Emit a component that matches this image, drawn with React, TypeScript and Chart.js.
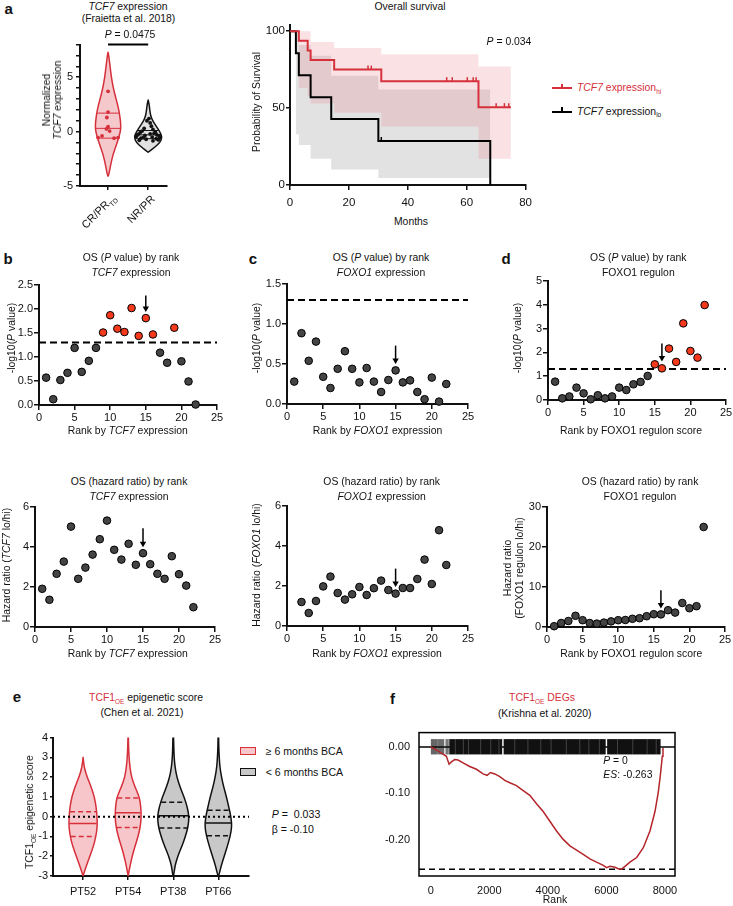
import React, { useEffect, useRef } from 'react';
import { Chart, registerables } from 'chart.js';

Chart.register(...registerables);

const FONT = '"Liberation Sans", Arial, Helvetica, sans-serif';
Chart.defaults.font.family = FONT;
Chart.defaults.font.size = 11;
Chart.defaults.color = '#111';

const INK = '#111111';
const RED = '#d6303b';
const DOT_RED = '#f5391c';
const DOT_GRAY = '#444444';

// ---------------- DATA ----------------
// Panel a: violin (normalized TCF7 expression)
const A_CATEGORIES = ['CR/PR_TD', 'NR/PR'];
const A_CR_Y = [-4.1, -4, -3, -2, -1, 0, 0.5, 1, 2, 3, 4, 5, 6, 7, 7.3];
const A_CR_W = [0, 0.017, 0.067, 0.13, 0.23, 0.31, 0.317, 0.31, 0.27, 0.2, 0.13, 0.083, 0.05, 0.017, 0];
const A_NR_Y = [-1.9, -1.5, -1, -0.5, 0, 0.5, 1, 1.5, 2, 2.5, 2.9];
const A_NR_W = [0, 0.14, 0.3, 0.35, 0.29, 0.2, 0.11, 0.06, 0.04, 0.025, 0];
const A_CR_QUARTILES = [-0.6, 0.3, 1.7];
const A_NR_QUARTILES = [-0.65, -0.3, 0.1];
const A_CR_VALUES = [3.7, 1.8, 1.3, 0.45, 0.25, 0.05, -0.4, -0.55, -0.6, -0.55];
const A_CR_JITTER = [0, 0, -0.03, 0, -0.04, 0.04, -0.15, -0.25, 0.15, 0.25];
const A_NR_VALUES = [1.2, 1.0, 0.8, 0.5, 0.3, 0.2, 0.05, -0.05, -0.1, -0.2, -0.25, -0.3, -0.35, -0.4, -0.45, -0.5, -0.55, -0.6, -0.65, -0.7, -0.75, -0.8, -0.85, -0.35, -0.55, -0.15];
const A_NR_JITTER = [0.02, -0.03, 0.05, 0.08, -0.1, 0.12, -0.15, 0.18, -0.2, 0.05, -0.25, 0.22, -0.08, 0.28, -0.3, 0.1, 0.3, -0.18, 0.2, -0.05, 0.25, -0.22, 0.12, -0.28, -0.12, 0.15];

// Panel a: Kaplan-Meier overall survival
const KM_HI_T = [0, 3, 6, 7, 15, 31, 64, 75];
const KM_HI_S = [100, 93.75, 87.5, 81.25, 75, 67.5, 50.6, 50.6];
const KM_HI_CENSOR = [26.5, 27.6, 53.2, 55.1, 60.2, 62.2, 63.2, 70, 72.8, 74.3];
const KM_HI_UPPER = [100, 100, 100, 93, 89, 85, 77, 77];
const KM_HI_LOWER = [100, 63, 58, 53, 47, 38, 17, 17];
const KM_LO_T = [0, 2, 3, 7, 14, 30, 68];
const KM_LO_S = [100, 85.7, 71.4, 57.1, 42.9, 28.6, 0];
const KM_LO_CENSOR = [31];
const KM_LO_BAND_T = [2, 3, 7, 14, 30, 68];
const KM_LO_UPPER = [100, 91, 84, 71, 62, 62];
const KM_LO_LOWER = [33, 26, 17, 10, 4.5, 4.5];

// Panels b-d: rank analyses
const RANKS = [1, 2, 3, 4, 5, 6, 7, 8, 9, 10, 11, 12, 13, 14, 15, 16, 17, 18, 19, 20, 21, 22];
const P_THRESHOLD = 1.301;
const B_LOGP = [0.57, 0.12, 0.52, 0.67, 1.19, 0.69, 0.92, 1.19, 1.51, 1.87, 1.59, 1.52, 2.02, 1.44, 1.81, 1.47, 1.09, 0.88, 1.61, 0.91, 0.49, 0.01];
const C_LOGP = [0.28, 0.885, 0.54, 0.78, 0.34, 0.2, 0.44, 0.66, 0.44, 0.27, 0.45, 0.28, 0.15, 0.3, 0.42, 0.27, 0.295, 0.15, 0.06, 0.33, 0.03, 0.25];
const D_LOGP = [0.77, 0.07, 0.15, 0.52, 0.28, 0.03, 0.2, 0.07, 0.15, 0.52, 0.42, 0.66, 0.76, 1.01, 1.5, 1.33, 2.16, 1.6, 3.22, 2.06, 1.78, 3.99];
const B_HR = [1.91, 1.36, 2.66, 3.27, 5.02, 2.41, 2.97, 3.62, 4.39, 5.32, 3.86, 3.37, 4.16, 3.11, 3.69, 3.14, 2.66, 2.41, 3.54, 2.64, 2.07, 0.99];
const C_HR = [null, 1.2, 0.65, 1.25, 1.98, 2.47, 1.65, 1.32, 1.585, 1.95, 1.55, 1.89, 2.27, 1.8, 1.62, 1.9, 1.9, 2.35, 3.32, 2.1, 4.79, 3.05];
const D_HR = [0.2, 1.0, 1.5, 2.8, 1.7, 1.0, 0.85, 1.1, 1.4, 1.7, 1.75, 2.05, 2.2, 2.7, 3.2, 3.15, 4.2, 3.6, 6.0, 4.7, 5.2, 25];
// arrows: [rank, from, to]
const B_P_ARROW = [15, 2.28, 1.94];
const C_P_ARROW = [15, 0.73, 0.5];
const D_P_ARROW = [16, 2.37, 1.62];
const B_HR_ARROW = [15, 4.94, 3.99];
const C_HR_ARROW = [15, 2.87, 1.95];
const D_HR_ARROW = [16, 9.2, 4.6];

// Panel e: epigenetic score violins
const E_GROUPS = ['PT52', 'PT54', 'PT38', 'PT66'];
const E_GROUP_RED = [true, true, false, false];
const E_PT52_Y = [-3, -2.5, -2, -1.5, -1, -0.5, 0, 0.5, 1, 1.5, 2, 2.5, 3];
const E_PT52_W = [0, 0.07, 0.15, 0.23, 0.285, 0.315, 0.31, 0.29, 0.25, 0.18, 0.09, 0.025, 0];
const E_LONG_Y = [-3, -2.5, -2, -1.5, -1, -0.5, 0, 0.5, 1, 1.5, 2, 2.5, 3, 3.5, 4, 4.5];
const E_PT54_W = [0, 0.04, 0.09, 0.15, 0.22, 0.27, 0.29, 0.28, 0.25, 0.15, 0.074, 0.04, 0.02, 0.01, 0.005, 0];
const E_PT38_W = [0.01, 0.035, 0.1, 0.19, 0.27, 0.33, 0.35, 0.31, 0.24, 0.15, 0.08, 0.04, 0.02, 0.012, 0.007, 0.004];
const E_PT66_W = [0.01, 0.06, 0.13, 0.2, 0.26, 0.3, 0.28, 0.23, 0.18, 0.12, 0.07, 0.035, 0.02, 0.01, 0.006, 0.003];
const E_QUARTILES = [[-1.0, -0.35, 0.25], [-0.55, 0.2, 0.95], [-0.57, 0.05, 0.73], [-0.97, -0.32, 0.32]];

// Panel f: GSEA running enrichment score
const F_RANK = [0, 194, 365, 535, 627, 706, 820, 934, 1105, 1333, 1561, 1789, 1926, 2040, 2188, 2359, 2530, 2701, 2929, 3157, 3385, 3613, 3841, 4069, 4297, 4525, 4753, 4980, 5208, 5436, 5664, 5892, 6006, 6120, 6291, 6405, 6519, 6633, 6804, 7032, 7260, 7487, 7658, 7772, 7852, 7909, 7932];
const F_ES = [0, -0.006, -0.013, -0.02, -0.037, -0.032, -0.027, -0.028, -0.034, -0.042, -0.048, -0.058, -0.061, -0.055, -0.058, -0.064, -0.072, -0.077, -0.083, -0.094, -0.104, -0.122, -0.139, -0.16, -0.181, -0.199, -0.213, -0.222, -0.231, -0.241, -0.248, -0.255, -0.26, -0.257, -0.259, -0.262, -0.263, -0.257, -0.248, -0.238, -0.217, -0.181, -0.139, -0.097, -0.055, -0.02, -0.002];
const F_ES_MIN = -0.263;
const F_HIT_LINES = [23, 57, 91, 125, 160, 194, 239, 274, 308, 342, 376, 410, 445, 524, 559, 593, 638];
const F_HIT_BLOCKS = [[650, 2440], [2490, 5975], [6025, 7850]];
const F_HIT_STREAKS = [840, 1115, 1290, 1705, 2050, 2330, 2870, 3320, 3760, 4110, 4630, 5090, 5400, 5760, 6380, 6900, 7390, 7700];
const F_HIT_TOP = 0.017;
const F_HIT_BOTTOM = -0.016;

// ---------------- HELPERS ----------------
function axis(o: any) {
  const a: any = {
    type: 'linear',
    min: o.min,
    max: o.max,
    grid: {
      display: o.noTicks ? false : true,
      drawOnChartArea: false,
      drawTicks: true,
      tickLength: o.tickLength ?? 4,
      color: INK,
      lineWidth: 1.5,
    },
    border: { display: o.noBorder ? false : true, color: INK, width: 2 },
    ticks: {
      color: INK,
      padding: o.padding ?? 1,
      autoSkip: false,
      maxRotation: 0,
      minRotation: 0,
      font: { size: o.size ?? 11, family: FONT },
    },
  };
  if (o.step !== undefined) a.ticks.stepSize = o.step;
  if (o.fmt) a.ticks.callback = (v: number) => o.fmt(v);
  if (o.values) a.afterBuildTicks = (s: any) => { s.ticks = o.values.map((v: number) => ({ value: v })); };
  return a;
}

function kmAt(T: number[], S: number[], t: number) {
  let s = S[0];
  for (let i = 0; i < T.length; i++) if (T[i] <= t) s = S[i];
  return s;
}

function interpW(Y: number[], W: number[], y: number) {
  for (let i = 0; i < Y.length - 1; i++) {
    if (y >= Y[i] && y <= Y[i + 1]) {
      const f = (y - Y[i]) / (Y[i + 1] - Y[i]);
      return W[i] + f * (W[i + 1] - W[i]);
    }
  }
  return 0;
}

function violinPath(ctx: any, xs: any, ys: any, cx: number, Y: number[], W: number[]) {
  const right = Y.map((y, i) => [xs.getPixelForValue(cx + W[i]), ys.getPixelForValue(y)]);
  const left = Y.map((y, i) => [xs.getPixelForValue(cx - W[i]), ys.getPixelForValue(y)]).reverse();
  const pts = right.concat(left);
  const n = pts.length;
  const mid = (a: number[], b: number[]) => [(a[0] + b[0]) / 2, (a[1] + b[1]) / 2];
  ctx.beginPath();
  const m0 = mid(pts[n - 1], pts[0]);
  ctx.moveTo(m0[0], m0[1]);
  for (let i = 0; i < n; i++) {
    const p = pts[i];
    const q = pts[(i + 1) % n];
    const m = mid(p, q);
    ctx.quadraticCurveTo(p[0], p[1], m[0], m[1]);
  }
  ctx.closePath();
}

function drawViolin(ctx: any, xs: any, ys: any, cx: number, Y: number[], W: number[], fill: string, stroke: string, lw: number) {
  ctx.save();
  violinPath(ctx, xs, ys, cx, Y, W);
  ctx.fillStyle = fill;
  ctx.fill();
  ctx.strokeStyle = stroke;
  ctx.lineWidth = lw;
  ctx.lineJoin = 'round';
  ctx.stroke();
  ctx.restore();
}

function drawQuartile(ctx: any, xs: any, ys: any, cx: number, Y: number[], W: number[], q: number, color: string, lw: number, dash: number[]) {
  const w = interpW(Y, W, q) * 0.96;
  const py = ys.getPixelForValue(q);
  ctx.save();
  ctx.strokeStyle = color;
  ctx.lineWidth = lw;
  ctx.setLineDash(dash);
  ctx.beginPath();
  ctx.moveTo(xs.getPixelForValue(cx - w), py);
  ctx.lineTo(xs.getPixelForValue(cx + w), py);
  ctx.stroke();
  ctx.restore();
}

function arrowPlugin(arrow: number[]) {
  return {
    id: 'arrow',
    afterDatasetsDraw(chart: any) {
      const { ctx, scales } = chart;
      const px = scales.x.getPixelForValue(arrow[0]);
      const y1 = scales.y.getPixelForValue(arrow[1]);
      const y2 = scales.y.getPixelForValue(arrow[2]);
      ctx.save();
      ctx.strokeStyle = '#000';
      ctx.fillStyle = '#000';
      ctx.lineWidth = 1.5;
      ctx.beginPath();
      ctx.moveTo(px, y1);
      ctx.lineTo(px, y2 - 4);
      ctx.stroke();
      ctx.beginPath();
      ctx.moveTo(px - 3.2, y2 - 5.5);
      ctx.lineTo(px + 3.2, y2 - 5.5);
      ctx.lineTo(px, y2);
      ctx.closePath();
      ctx.fill();
      ctx.restore();
    },
  };
}

function thresholdPlugin(th: number | null) {
  return {
    id: 'threshold',
    beforeDatasetsDraw(chart: any) {
      if (th === null) return;
      const { ctx, chartArea, scales } = chart;
      const py = scales.y.getPixelForValue(th);
      ctx.save();
      ctx.strokeStyle = '#000';
      ctx.lineWidth = 2;
      ctx.setLineDash([7, 4]);
      ctx.beginPath();
      ctx.moveTo(chartArea.left, py);
      ctx.lineTo(chartArea.right, py);
      ctx.stroke();
      ctx.restore();
    },
  };
}

function rankPanel(values: any[], yMin: number, yMax: number, yStep: number, yFmt: any, arrow: number[], threshold: number | null) {
  return () => {
    const pts = RANKS.map((r, i) => ({ x: r, y: values[i] })).filter((p) => p.y !== null && p.y !== undefined);
    const colors = pts.map((p) => (threshold !== null && p.y > threshold ? DOT_RED : DOT_GRAY));
    return {
      type: 'scatter',
      data: {
        datasets: [{
          data: pts,
          pointRadius: 3.8,
          pointBorderWidth: 1,
          pointBorderColor: '#000',
          pointBackgroundColor: colors,
          clip: false,
        }],
      },
      options: {
        scales: {
          x: axis({ min: 0, max: 25, step: 5, tickLength: 5 }),
          y: axis({ min: yMin, max: yMax, step: yStep, fmt: yFmt, tickLength: 5 }),
        },
      },
      plugins: [thresholdPlugin(threshold), arrowPlugin(arrow)],
    };
  };
}

function makeViolinA() {
  const crPts = A_CR_VALUES.map((v, i) => ({ x: 1 + A_CR_JITTER[i], y: v }));
  const nrPts = A_NR_VALUES.map((v, i) => ({ x: 2 + A_NR_JITTER[i], y: v }));
  return {
    type: 'scatter',
    data: {
      datasets: [
        { data: crPts, pointRadius: 1.9, pointBackgroundColor: RED, pointBorderColor: RED, pointBorderWidth: 0, clip: false },
        { data: nrPts, pointRadius: 1.9, pointBackgroundColor: '#111', pointBorderColor: '#111', pointBorderWidth: 0, clip: false },
      ],
    },
    options: {
      scales: {
        x: axis({ min: 0.3, max: 2.47, values: [1, 2], fmt: () => '', tickLength: 4 }),
        y: axis({ min: -5, max: 8, step: 1, fmt: (v: number) => (v % 5 === 0 ? String(v) : ''), tickLength: 4, padding: 3 }),
      },
    },
    plugins: [{
      id: 'violinA',
      beforeDatasetsDraw(chart: any) {
        const { ctx, scales: { x, y } } = chart;
        drawViolin(ctx, x, y, 1, A_CR_Y, A_CR_W, 'rgba(228,110,120,0.38)', RED, 1.5);
        drawViolin(ctx, x, y, 2, A_NR_Y, A_NR_W, 'rgba(200,200,200,0.55)', '#111', 1.5);
        A_CR_QUARTILES.forEach((q) => drawQuartile(ctx, x, y, 1, A_CR_Y, A_CR_W, q, RED, 1, []));
        A_NR_QUARTILES.forEach((q) => drawQuartile(ctx, x, y, 2, A_NR_Y, A_NR_W, q, '#111', 1, []));
      },
      afterDatasetsDraw(chart: any) {
        const { ctx, scales: { x, y } } = chart;
        const py = y.getPixelForValue(8);
        ctx.save();
        ctx.strokeStyle = '#000';
        ctx.lineWidth = 2;
        ctx.beginPath();
        ctx.moveTo(x.getPixelForValue(1), py);
        ctx.lineTo(x.getPixelForValue(2), py);
        ctx.stroke();
        ctx.restore();
      },
    }],
  };
}

function makeSurvival() {
  const line = (T: number[], S: number[]) => T.map((t, i) => ({ x: t, y: S[i] }));
  const band = { stepped: true, pointRadius: 0, borderColor: 'rgba(0,0,0,0)', borderWidth: 1 };
  return {
    type: 'line',
    data: {
      datasets: [
        { data: line(KM_HI_T, KM_HI_S), stepped: true, borderColor: RED, borderWidth: 2, pointRadius: 0, fill: false },
        { data: line(KM_LO_T, KM_LO_S), stepped: true, borderColor: '#000', borderWidth: 2, pointRadius: 0, fill: false },
        { ...band, data: line(KM_HI_T, KM_HI_UPPER), fill: '+1', backgroundColor: 'rgba(232,120,130,0.22)' },
        { ...band, data: line(KM_HI_T, KM_HI_LOWER), fill: false },
        { ...band, data: line(KM_LO_BAND_T, KM_LO_UPPER), fill: '+1', backgroundColor: 'rgba(140,140,140,0.25)' },
        { ...band, data: line(KM_LO_BAND_T, KM_LO_LOWER), fill: false },
      ],
    },
    options: {
      scales: {
        x: axis({ min: 0, max: 80, step: 20, tickLength: 5, padding: 6, size: 11.5 }),
        y: axis({ min: 0, max: 104, values: [0, 50, 100], tickLength: 4, padding: 1, size: 11.5 }),
      },
    },
    plugins: [{
      id: 'censor',
      afterDatasetsDraw(chart: any) {
        const { ctx, scales: { x, y } } = chart;
        ctx.save();
        ctx.lineWidth = 1.5;
        const groups: any[] = [[KM_HI_CENSOR, KM_HI_T, KM_HI_S, RED], [KM_LO_CENSOR, KM_LO_T, KM_LO_S, '#000']];
        groups.forEach(([cs, T, S, col]) => {
          ctx.strokeStyle = col;
          cs.forEach((t: number) => {
            const px = x.getPixelForValue(t);
            const py = y.getPixelForValue(kmAt(T, S, t));
            ctx.beginPath();
            ctx.moveTo(px, py);
            ctx.lineTo(px, py - 4);
            ctx.stroke();
          });
        });
        ctx.restore();
      },
    }],
  };
}

function makeViolinE() {
  const specs: any[] = [
    [E_PT52_Y, E_PT52_W],
    [E_LONG_Y, E_PT54_W],
    [E_LONG_Y, E_PT38_W],
    [E_LONG_Y, E_PT66_W],
  ];
  return {
    type: 'scatter',
    data: { datasets: [{ data: [], pointRadius: 0 }] },
    options: {
      scales: {
        x: axis({ min: 0.333, max: 4.68, values: [1, 2, 3, 4], fmt: (v: number) => E_GROUPS[v - 1] || '', tickLength: 4, padding: 5 }),
        y: axis({ min: -3, max: 4, step: 1, tickLength: 3, padding: 2 }),
      },
    },
    plugins: [{
      id: 'violinE',
      beforeDatasetsDraw(chart: any) {
        const { ctx, chartArea, scales: { x, y } } = chart;
        ctx.save();
        ctx.beginPath();
        ctx.rect(chartArea.left, chartArea.top, chartArea.right - chartArea.left, chartArea.bottom - chartArea.top);
        ctx.clip();
        specs.forEach(([Y, W], i) => {
          const red = E_GROUP_RED[i];
          const stroke = red ? RED : '#111';
          drawViolin(ctx, x, y, i + 1, Y, W, red ? '#f7c6ca' : '#c8c8c8', stroke, 1.5);
          const [q1, med, q3] = E_QUARTILES[i];
          drawQuartile(ctx, x, y, i + 1, Y, W, q1, stroke, 1.5, [5, 3]);
          drawQuartile(ctx, x, y, i + 1, Y, W, med, stroke, 1.5, []);
          drawQuartile(ctx, x, y, i + 1, Y, W, q3, stroke, 1.5, [5, 3]);
        });
        ctx.restore();
      },
      afterDatasetsDraw(chart: any) {
        const { ctx, chartArea, scales: { y } } = chart;
        const py = y.getPixelForValue(0);
        ctx.save();
        ctx.strokeStyle = '#000';
        ctx.lineWidth = 2;
        ctx.setLineDash([2, 3]);
        ctx.beginPath();
        ctx.moveTo(chartArea.left, py);
        ctx.lineTo(chartArea.right, py);
        ctx.stroke();
        ctx.restore();
      },
    }],
  };
}

function makeGsea() {
  return {
    type: 'line',
    data: {
      datasets: [{
        data: F_RANK.map((r, i) => ({ x: r, y: F_ES[i] })),
        borderColor: '#b3262b',
        borderWidth: 1.5,
        pointRadius: 0,
        fill: false,
        tension: 0,
      }],
    },
    options: {
      scales: {
        x: axis({ min: -400, max: 8342, values: [0, 2000, 4000, 6000, 8000], fmt: (v: number) => String(v), noTicks: true, noBorder: true, padding: 4 }),
        y: axis({ min: -0.2778, max: 0.031, values: [0, -0.1, -0.2], fmt: (v: number) => v.toFixed(2), noTicks: true, noBorder: true, padding: 5 }),
      },
    },
    plugins: [{
      id: 'gsea',
      beforeDatasetsDraw(chart: any) {
        const { ctx, chartArea, scales: { x, y } } = chart;
        ctx.save();
        const yt = y.getPixelForValue(F_HIT_TOP);
        const yb = y.getPixelForValue(F_HIT_BOTTOM);
        const y0 = y.getPixelForValue(0);
        ctx.strokeStyle = '#000';
        ctx.lineWidth = 1.5;
        ctx.beginPath();
        ctx.moveTo(chartArea.left, y0);
        ctx.lineTo(chartArea.right, y0);
        ctx.stroke();
        ctx.fillStyle = '#111';
        F_HIT_BLOCKS.forEach(([a, b]) => {
          const xa = x.getPixelForValue(a);
          const xb = x.getPixelForValue(b);
          ctx.fillRect(xa, yt, xb - xa, yb - yt);
        });
        ctx.strokeStyle = 'rgba(255,255,255,0.35)';
        ctx.lineWidth = 0.6;
        F_HIT_STREAKS.forEach((r) => {
          const px = x.getPixelForValue(r);
          ctx.beginPath();
          ctx.moveTo(px, yt);
          ctx.lineTo(px, yb);
          ctx.stroke();
        });
        ctx.strokeStyle = '#111';
        ctx.lineWidth = 0.7;
        F_HIT_LINES.forEach((r) => {
          const px = x.getPixelForValue(r);
          ctx.beginPath();
          ctx.moveTo(px, yt);
          ctx.lineTo(px, yb);
          ctx.stroke();
        });
        const ym = y.getPixelForValue(F_ES_MIN);
        ctx.strokeStyle = '#000';
        ctx.lineWidth = 1.5;
        ctx.setLineDash([6, 4]);
        ctx.beginPath();
        ctx.moveTo(chartArea.left, ym);
        ctx.lineTo(chartArea.right, ym);
        ctx.stroke();
        ctx.restore();
      },
      afterDatasetsDraw(chart: any) {
        const { ctx, chartArea } = chart;
        ctx.save();
        ctx.strokeStyle = '#000';
        ctx.lineWidth = 1.5;
        ctx.strokeRect(chartArea.left, chartArea.top, chartArea.right - chartArea.left, chartArea.bottom - chartArea.top);
        ctx.restore();
      },
    }],
  };
}

function ChartBox({ box, make, yw = 44, xh = 26, pt = 8, pr = 10 }: any) {
  const ref = useRef<HTMLCanvasElement | null>(null);
  const l = Math.round(box.l), t = Math.round(box.t), r = Math.round(box.r), b = Math.round(box.b);
  const w = r - l + yw + pr;
  const h = b - t + pt + xh;
  useEffect(() => {
    const cfg: any = make();
    const o = cfg.options || (cfg.options = {});
    o.responsive = false;
    o.maintainAspectRatio = false;
    o.animation = false;
    o.events = [];
    o.layout = { padding: { top: pt, right: pr, left: 0, bottom: 0 }, autoPadding: false };
    o.plugins = { legend: { display: false }, tooltip: { enabled: false }, title: { display: false } };
    o.scales.x.afterFit = (s: any) => { s.height = xh; };
    o.scales.y.afterFit = (s: any) => { s.width = yw; };
    const chart = new Chart(ref.current as HTMLCanvasElement, cfg);
    return () => chart.destroy();
  }, []);
  return <canvas ref={ref} width={w} height={h} style={{ position: 'absolute', left: l - yw, top: t - pt, width: w, height: h }} />;
}

const Sub = ({ children }: any) => (
  <span style={{ fontSize: '0.62em', position: 'relative', top: '0.4em' }}>{children}</span>
);

function Txt({ x, y, size = 10.4, align = 'center', rot = 0, color = INK, bold = false, lh, children }: any) {
  const tx = align === 'center' ? '-50%' : align === 'left' ? '0%' : '-100%';
  const origin = align === 'center' ? 'center center' : align === 'left' ? 'left center' : 'right center';
  return (
    <div
      style={{
        position: 'absolute',
        left: x,
        top: y,
        transform: `translate(${tx}, -50%)` + (rot ? ` rotate(${rot}deg)` : ''),
        transformOrigin: origin,
        fontSize: size,
        fontFamily: FONT,
        color,
        fontWeight: bold ? 700 : 400,
        whiteSpace: 'nowrap',
        lineHeight: lh ? `${lh}px` : 1.15,
        textAlign: 'center',
      }}
    >
      {children}
    </div>
  );
}

const L = ({ x, y, children }: any) => <Txt x={x} y={y} size={15} bold>{children}</Txt>;

export default function App() {
  const makeBP = rankPanel(B_LOGP, 0, 2.5, 0.5, (v: number) => v.toFixed(1), B_P_ARROW, P_THRESHOLD);
  const makeCP = rankPanel(C_LOGP, 0, 1.5, 0.5, (v: number) => v.toFixed(1), C_P_ARROW, P_THRESHOLD);
  const makeDP = rankPanel(D_LOGP, 0, 5, 1, null, D_P_ARROW, P_THRESHOLD);
  const makeBH = rankPanel(B_HR, 0, 6, 2, null, B_HR_ARROW, null);
  const makeCH = rankPanel(C_HR, 0, 6, 2, null, C_HR_ARROW, null);
  const makeDH = rankPanel(D_HR, 0, 30, 10, null, D_HR_ARROW, null);
  return (
    <div style={{ position: 'absolute', left: 0, top: 0, width: 733, height: 906, background: '#fff', overflow: 'hidden', fontFamily: FONT, color: INK }}>
      {/* charts */}
      <ChartBox box={{ l: 80, t: 43, r: 167, b: 186 }} make={makeViolinA} yw={40} xh={20} />
      <ChartBox box={{ l: 290, t: 25, r: 528, b: 185 }} make={makeSurvival} yw={40} xh={30} />
      <ChartBox box={{ l: 39, t: 285, r: 217, b: 405 }} make={makeBP} yw={36} xh={22} />
      <ChartBox box={{ l: 287, t: 284, r: 468, b: 404 }} make={makeCP} yw={36} xh={22} />
      <ChartBox box={{ l: 548, t: 281, r: 726, b: 400 }} make={makeDP} yw={36} xh={22} />
      <ChartBox box={{ l: 35, t: 507, r: 215, b: 627 }} make={makeBH} yw={30} xh={22} />
      <ChartBox box={{ l: 287, t: 506, r: 468, b: 626 }} make={makeCH} yw={30} xh={22} />
      <ChartBox box={{ l: 547, t: 507, r: 725, b: 627 }} make={makeDH} yw={30} xh={22} />
      <ChartBox box={{ l: 53, t: 737, r: 249, b: 876 }} make={makeViolinE} yw={30} xh={26} />
      <ChartBox box={{ l: 419, t: 729, r: 675, b: 876 }} make={makeGsea} yw={50} xh={22} />

      {/* panel letters */}
      <L x={8.7} y={8.5}>a</L>
      <L x={8} y={259}>b</L>
      <L x={253} y={259}>c</L>
      <L x={506} y={259}>d</L>
      <L x={17} y={697}>e</L>
      <L x={392.5} y={699}>f</L>

      {/* panel a: violin */}
      <Txt x={128} y={7}><i>TCF7</i> expression</Txt>
      <Txt x={128.5} y={18.5}>(Fraietta et al. 2018)</Txt>
      <Txt x={130} y={35}><i>P</i> = 0.0475</Txt>
      <Txt x={52} y={100} rot={-90} lh={11}>Normalized<br /><i>TCF7</i> expression</Txt>
      <Txt x={114} y={196} align="right" rot={-45} size={11}>CR/PR<Sub>TD</Sub></Txt>
      <Txt x={153} y={197} align="right" rot={-45} size={11}>NR/PR</Txt>

      {/* panel a: survival */}
      <Txt x={410} y={7}>Overall survival</Txt>
      <Txt x={509} y={41.7}><i>P</i> = 0.034</Txt>
      <Txt x={411} y={221.7}>Months</Txt>
      <Txt x={256.7} y={101.7} rot={-90}>Probability of Survival</Txt>
      <div style={{ position: 'absolute', left: 551.7, top: 87.3, width: 20, height: 2, background: RED }} />
      <div style={{ position: 'absolute', left: 561, top: 84, width: 1.5, height: 4, background: RED }} />
      <div style={{ position: 'absolute', left: 551.7, top: 110.7, width: 20, height: 2, background: '#000' }} />
      <div style={{ position: 'absolute', left: 561, top: 107.4, width: 1.5, height: 4, background: '#000' }} />
      <Txt x={577} y={88.3} align="left" color={RED}><i>TCF7</i> expression<Sub>hi</Sub></Txt>
      <Txt x={577} y={111.7} align="left"><i>TCF7</i> expression<Sub>lo</Sub></Txt>

      {/* panels b-d top */}
      <Txt x={131} y={257.5}>OS (<i>P</i> value) by rank</Txt>
      <Txt x={131} y={272.5}><i>TCF7</i> expression</Txt>
      <Txt x={381} y={257.5}>OS (<i>P</i> value) by rank</Txt>
      <Txt x={381} y={272.5}><i>FOXO1</i> expression</Txt>
      <Txt x={638.3} y={257.5}>OS (<i>P</i> value) by rank</Txt>
      <Txt x={638.3} y={272.5}>FOXO1 regulon</Txt>
      <Txt x={11.7} y={338} rot={-90}>-log10(<i>P</i> value)</Txt>
      <Txt x={257} y={338} rot={-90}>-log10(<i>P</i> value)</Txt>
      <Txt x={518} y={338} rot={-90}>-log10(<i>P</i> value)</Txt>
      <Txt x={127.8} y={430.5}>Rank by <i>TCF7</i> expression</Txt>
      <Txt x={377.5} y={430.5}>Rank by <i>FOXO1</i> expression</Txt>
      <Txt x={631} y={430.5}>Rank by FOXO1 regulon score</Txt>

      {/* panels b-d bottom */}
      <Txt x={129} y={481.7}>OS (hazard ratio) by rank</Txt>
      <Txt x={129} y={497}><i>TCF7</i> expression</Txt>
      <Txt x={381.7} y={481.7}>OS (hazard ratio) by rank</Txt>
      <Txt x={381.7} y={497}><i>FOXO1</i> expression</Txt>
      <Txt x={640} y={481.7}>OS (hazard ratio) by rank</Txt>
      <Txt x={640} y={497}>FOXO1 regulon</Txt>
      <Txt x={6.5} y={565} rot={-90}>Hazard ratio (<i>TCF7</i> lo/hi)</Txt>
      <Txt x={256.7} y={565} rot={-90}>Hazard ratio (<i>FOXO1</i> lo/hi)</Txt>
      <Txt x={513} y={568} rot={-90} lh={11.5}>Hazard ratio<br />(FOXO1 regulon lo/hi)</Txt>
      <Txt x={127.8} y={654}>Rank by <i>TCF7</i> expression</Txt>
      <Txt x={377} y={654}>Rank by <i>FOXO1</i> expression</Txt>
      <Txt x={631.2} y={654}>Rank by FOXO1 regulon score</Txt>

      {/* panel e */}
      <Txt x={146} y={698}><span style={{ color: RED }}>TCF1<Sub>OE</Sub></span> epigenetic score</Txt>
      <Txt x={142} y={712.7}>(Chen et al. 2021)</Txt>
      <Txt x={30} y={812} rot={-90}>TCF1<Sub>OE</Sub> epigenetic score</Txt>
      <div style={{ position: 'absolute', left: 240, top: 746.5, width: 13.5, height: 6, border: `1.6px solid ${RED}`, background: '#f7c6ca' }} />
      <div style={{ position: 'absolute', left: 240, top: 767.5, width: 13.5, height: 6, border: '1.6px solid #111', background: '#c8c8c8' }} />
      <Txt x={265.7} y={750.7} align="left" size={10.6}>≥ 6 months BCA</Txt>
      <Txt x={265.7} y={771.7} align="left" size={10.6}>&lt; 6 months BCA</Txt>
      <Txt x={271.7} y={814} align="left" size={10.6}><i>P</i> =&nbsp; 0.033</Txt>
      <Txt x={271.7} y={829} align="left" size={10.6}>β = -0.10</Txt>

      {/* panel f */}
      <Txt x={542} y={698} color={RED}>TCF1<Sub>OE</Sub> DEGs</Txt>
      <Txt x={544.7} y={714}>(Krishna et al. 2020)</Txt>
      <Txt x={555} y={900}>Rank</Txt>
      <Txt x={603.3} y={761} align="left"><i>P</i> = 0</Txt>
      <Txt x={603.3} y={775} align="left"><i>ES</i>: -0.263</Txt>
    </div>
  );
}
